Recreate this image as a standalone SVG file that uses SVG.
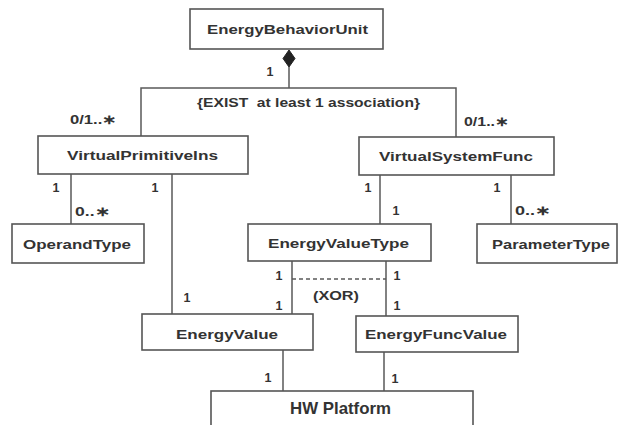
<svg xmlns="http://www.w3.org/2000/svg" width="621" height="425" viewBox="0 0 621 425">
  <style>
    .box { fill: #ffffff; stroke: #555555; stroke-width: 1.6; }
    .line { fill: none; stroke: #5a5a5a; stroke-width: 1.5; }
    .dash { fill: none; stroke: #5a5a5a; stroke-width: 1.3; stroke-dasharray: 4 3; }
    .name { font-family: "Liberation Sans", Arial, sans-serif; font-weight: bold; font-size: 13.5px; fill: #333333; text-anchor: middle; }
    .big { font-size: 16.5px; }
    .mult { font-family: "Liberation Sans", Arial, sans-serif; font-weight: bold; font-size: 12.5px; fill: #333333; }
    .note { font-family: "Liberation Sans", Arial, sans-serif; font-weight: bold; font-size: 12.5px; fill: #333333; text-anchor: middle; white-space: pre; }
  </style>
  <rect width="621" height="425" fill="#ffffff"/>

  <!-- associations -->
  <g id="connectors">
    <path class="line" d="M289,67 V88 M141,136 V88 H456 V137"/>
    <polygon points="289,50 295,58.5 289,67 283,58.5" fill="#222222" stroke="#222222" stroke-width="1"/>
    <path class="line" d="M71,174 V224 M172,174 V314"/>
    <path class="line" d="M380,175 V224 M511,175 V224"/>
    <path class="line" d="M292,261 V314 M386,261 V316"/>
    <path class="dash" d="M292,279 H386"/>
    <path class="line" d="M283,350 V391 M384,352 V391"/>

    <text class="mult" x="270" y="76" text-anchor="middle">1</text>
    <text class="note" x="308.5" y="107" textLength="223" lengthAdjust="spacingAndGlyphs">{EXIST  at least 1 association}</text>
    <text class="mult" x="70" y="124" textLength="47" lengthAdjust="spacingAndGlyphs">0/1..∗</text>
    <text class="mult" x="464" y="126" textLength="45" lengthAdjust="spacingAndGlyphs">0/1..∗</text>

    <text class="mult" x="56" y="192" text-anchor="middle">1</text>
    <text class="mult" x="155" y="192" text-anchor="middle">1</text>
    <text class="mult" x="75" y="216" textLength="35" lengthAdjust="spacingAndGlyphs">0..∗</text>

    <text class="mult" x="368" y="192" text-anchor="middle">1</text>
    <text class="mult" x="396" y="215" text-anchor="middle">1</text>
    <text class="mult" x="497" y="192" text-anchor="middle">1</text>
    <text class="mult" x="515" y="215" textLength="36" lengthAdjust="spacingAndGlyphs">0..∗</text>

    <text class="mult" x="279" y="280" text-anchor="middle">1</text>
    <text class="mult" x="279" y="310" text-anchor="middle">1</text>
    <text class="mult" x="397" y="280" text-anchor="middle">1</text>
    <text class="mult" x="397" y="310" text-anchor="middle">1</text>
    <text class="note" x="336" y="300" textLength="46" lengthAdjust="spacingAndGlyphs">(XOR)</text>
    <text class="mult" x="187" y="302" text-anchor="middle">1</text>

    <text class="mult" x="268" y="382" text-anchor="middle">1</text>
    <text class="mult" x="395" y="383" text-anchor="middle">1</text>
  </g>

  <g id="EnergyBehaviorUnit">
    <rect class="box" x="190" y="9" width="193" height="40"/>
    <text class="name" x="287.5" y="34" textLength="161" lengthAdjust="spacingAndGlyphs">EnergyBehaviorUnit</text>
  </g>
  <g id="VirtualPrimitiveIns">
    <rect class="box" x="38" y="136" width="210" height="38"/>
    <text class="name" x="142.5" y="160" textLength="151" lengthAdjust="spacingAndGlyphs">VirtualPrimitiveIns</text>
  </g>
  <g id="VirtualSystemFunc">
    <rect class="box" x="359" y="137" width="195" height="38"/>
    <text class="name" x="456" y="161" textLength="154" lengthAdjust="spacingAndGlyphs">VirtualSystemFunc</text>
  </g>
  <g id="OperandType">
    <rect class="box" x="12" y="224" width="132" height="39"/>
    <text class="name" x="77" y="249" textLength="108" lengthAdjust="spacingAndGlyphs">OperandType</text>
  </g>
  <g id="EnergyValueType">
    <rect class="box" x="248" y="224" width="183" height="37"/>
    <text class="name" x="338.5" y="248" textLength="141" lengthAdjust="spacingAndGlyphs">EnergyValueType</text>
  </g>
  <g id="ParameterType">
    <rect class="box" x="477" y="224" width="140" height="39"/>
    <text class="name" x="551" y="249" textLength="118" lengthAdjust="spacingAndGlyphs">ParameterType</text>
  </g>
  <g id="EnergyValue">
    <rect class="box" x="142" y="314" width="171" height="36"/>
    <text class="name" x="227" y="339" textLength="102" lengthAdjust="spacingAndGlyphs">EnergyValue</text>
  </g>
  <g id="EnergyFuncValue">
    <rect class="box" x="356" y="316" width="162" height="36"/>
    <text class="name" x="436" y="339" textLength="142" lengthAdjust="spacingAndGlyphs">EnergyFuncValue</text>
  </g>
  <g id="HWPlatform">
    <rect class="box" x="211" y="391" width="262" height="44"/>
    <text class="name big" x="340.5" y="414" textLength="101" lengthAdjust="spacingAndGlyphs">HW Platform</text>
  </g>
</svg>
